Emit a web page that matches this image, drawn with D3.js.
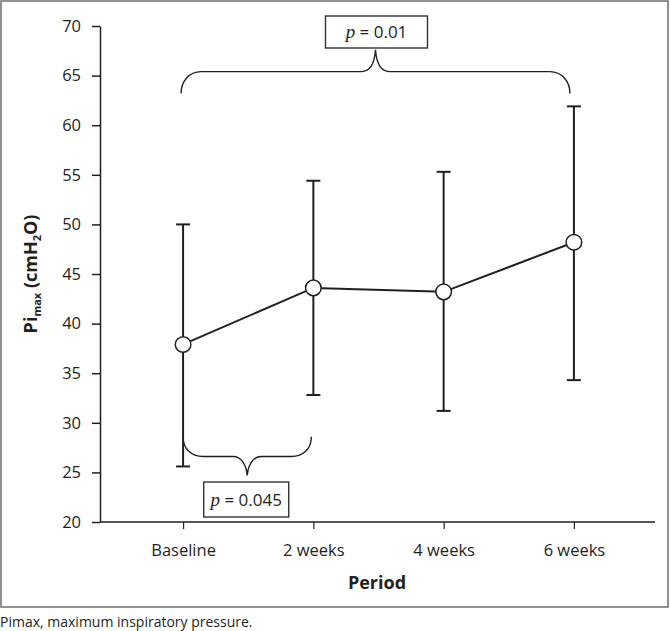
<!DOCTYPE html>
<html><head><meta charset="utf-8">
<script src="https://cdn.jsdelivr.net/npm/d3@7"></script>
<style>
body{margin:0;background:#fff;}
svg text{font-family:"Open Sans",sans-serif;fill:#231f20;}
</style></head>
<body><svg id="c" width="670" height="631"></svg>
<script>
const categories = ["Baseline","2 weeks","4 weeks","6 weeks"];
const means = [37.9, 43.6, 43.2, 48.2];
const upper = [50.0, 54.4, 55.3, 61.9];
const lower = [25.6, 32.8, 31.2, 34.3];
const yTicks = [20,25,30,35,40,45,50,55,60,65,70];
const pLabels = ["0.01","0.045"];

const svg = d3.select("#c");
const ink = "#231f20";

// frame
svg.append("rect").attr("x",1).attr("y",1).attr("width",667).attr("height",606)
  .attr("fill","none").attr("stroke","#6d6d6d").attr("stroke-width",1.5);

const x = d3.scalePoint().domain(categories).range([101,656]).padding(0.63);
const y = d3.scaleLinear().domain([20,70]).range([522,26]);

// y axis
const ya = svg.append("g").attr("transform","translate(100,0)")
  .call(d3.axisLeft(y).tickValues(yTicks).tickSize(8).tickPadding(11).tickSizeOuter(0));
ya.select(".domain").attr("stroke",ink).attr("stroke-width",1.5);
ya.selectAll(".tick line").attr("stroke",ink).attr("stroke-width",1.5);
ya.selectAll(".tick text").style("font-size","16.5px").attr("fill",ink);

// x axis
const xa = svg.append("g").attr("transform","translate(0,522)")
  .call(d3.axisBottom(x).tickSize(7).tickPadding(15).tickSizeOuter(0));
xa.select(".domain").attr("d","M100,0H655").attr("stroke",ink).attr("stroke-width",1.5);
xa.selectAll(".tick line").attr("stroke",ink).attr("stroke-width",1.2);
xa.selectAll(".tick text").style("font-size","16.5px").attr("fill",ink);

// axis titles
const yl = svg.append("text").attr("transform","translate(37,274) rotate(-90)")
  .attr("text-anchor","middle").style("font-size","18px").style("font-weight","bold");
yl.append("tspan").text("Pi");
yl.append("tspan").attr("dy",4).style("font-size","11px").text("max");
yl.append("tspan").attr("dy",-4).text(" (cmH");
yl.append("tspan").attr("dy",4).style("font-size","11px").text("2");
yl.append("tspan").attr("dy",-4).text("O)");

svg.append("text").attr("x",377).attr("y",589).attr("text-anchor","middle")
  .style("font-size","18px").style("font-weight","bold").text("Period");

// caption
svg.append("text").attr("x",0).attr("y",627).style("font-size","14px").text("Pimax, maximum inspiratory pressure.");

// brackets (annotations anchored to scales)
function brace(x0, x1, yEnd, yMid, yTip){
  const xm = (x0+x1)/2;
  const d = d3.path();
  const s = yEnd>yMid ? -1 : 1;
  d.moveTo(x0, yEnd);
  d.bezierCurveTo(x0, yEnd + s*12, x0+8, yMid, x0+20, yMid);
  d.lineTo(xm-14, yMid);
  d.bezierCurveTo(xm-6, yMid, xm-1, yMid + s*8, xm, yTip);
  d.bezierCurveTo(xm+1, yMid + s*8, xm+6, yMid, xm+14, yMid);
  d.lineTo(x1-20, yMid);
  d.bezierCurveTo(x1-8, yMid, x1, yEnd + s*12, x1, yEnd);
  return d.toString();
}
const g = svg.append("g");
g.append("path").attr("d",brace(x("Baseline")-2, x("6 weeks")-4, y(63.2), y(65.4), y(67.6)))
  .attr("fill","none").attr("stroke",ink).attr("stroke-width",1.4);
g.append("path").attr("d",brace(x("Baseline"), x("2 weeks")-2, y(28.6), y(26.6), y(24.7)))
  .attr("fill","none").attr("stroke",ink).attr("stroke-width",1.4);

function pbox(cx, yTop, w, h, val){
  g.append("rect").attr("x",cx-w/2).attr("y",yTop).attr("width",w).attr("height",h)
    .attr("fill","#fff").attr("stroke","#333").attr("stroke-width",1.4);
  const t = g.append("text").attr("x",cx).attr("y",yTop+h/2+6).attr("text-anchor","middle").style("font-size","17px");
  t.append("tspan").style("font-family","'Liberation Serif',serif").style("font-style","italic").style("font-size","19px").text("p");
  t.append("tspan").text(" = "+val);
}
pbox((x("Baseline")+x("6 weeks"))/2 - 2, 16, 102, 32, pLabels[0]);
pbox((x("Baseline")+x("2 weeks"))/2 - 2, 482, 85, 35, pLabels[1]);

// error bars
const data = categories.map((c,i)=>({c, m:means[i], hi:upper[i], lo:lower[i]}));
const eb = svg.append("g").attr("stroke",ink).attr("stroke-width",2);
eb.selectAll("line.v").data(data).join("line").attr("class","v")
  .attr("x1",d=>x(d.c)).attr("x2",d=>x(d.c)).attr("y1",d=>y(d.hi)).attr("y2",d=>y(d.lo));
eb.selectAll("line.t").data(data).join("line").attr("class","t")
  .attr("x1",d=>x(d.c)-7).attr("x2",d=>x(d.c)+7).attr("y1",d=>y(d.hi)).attr("y2",d=>y(d.hi));
eb.selectAll("line.b").data(data).join("line").attr("class","b")
  .attr("x1",d=>x(d.c)-7).attr("x2",d=>x(d.c)+7).attr("y1",d=>y(d.lo)).attr("y2",d=>y(d.lo));

// line
svg.append("path").datum(data)
  .attr("d", d3.line().x(d=>x(d.c)).y(d=>y(d.m)))
  .attr("fill","none").attr("stroke",ink).attr("stroke-width",2);

svg.selectAll("circle.pt").data(data).join("circle").attr("class","pt")
  .attr("cx",d=>x(d.c)).attr("cy",d=>y(d.m)).attr("r",7.8)
  .attr("fill","#fff").attr("stroke",ink).attr("stroke-width",1.5);
</script></body></html>
